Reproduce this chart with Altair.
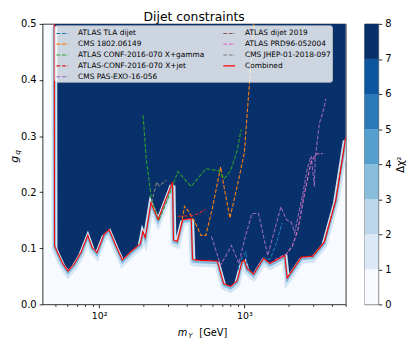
import altair as alt
import pandas as pd

# ---------------- data ----------------
comb_m = [49.0, 49.2, 51.5, 55.7, 60.9, 67.3, 75.1, 83.4, 89.2, 96.5,
          108.1, 117.0, 130.0, 144.3, 168.7, 192.2, 199.8, 207.8, 227.3, 254.7,
          319.8, 324.9, 344.7, 376.7, 430.5, 439.5, 454.7, 652.0, 719.5, 803.5,
          891.6, 964.0, 1000.0, 1042.0, 1158.0, 1355.0, 1503.0, 1900.0, 1973.0, 2469.0,
          2965.0, 3556.0, 4272.0, 5000.0]
comb_g = [0.500, 0.105, 0.093, 0.074, 0.059, 0.072, 0.093, 0.123, 0.102, 0.092,
          0.125, 0.133, 0.105, 0.079, 0.096, 0.108, 0.130, 0.119, 0.181, 0.151,
          0.218, 0.115, 0.112, 0.151, 0.153, 0.081, 0.079, 0.077, 0.037, 0.032,
          0.042, 0.076, 0.079, 0.064, 0.054, 0.082, 0.073, 0.087, 0.047, 0.084,
          0.086, 0.111, 0.186, 0.298]

tla_m = [900, 964, 1027, 1042, 1158, 1355, 1503, 1669, 1820]
tla_g = [0.060, 0.084, 0.093, 0.066, 0.055, 0.083, 0.080, 0.110, 0.145]

cms1802_m = [344.7, 359.7, 387, 420.5, 464, 502, 543, 603, 686.6, 727.5,
             795.7, 891.6, 1000, 1060, 1111, 1164]
cms1802_g = [0.112, 0.128, 0.175, 0.163, 0.143, 0.123, 0.123, 0.172, 0.245, 0.207,
             0.154, 0.210, 0.270, 0.360, 0.430, 0.500]

xgam_m = [200.5, 211, 229.4, 257.6, 298, 348.6, 429.5, 543, 669.9, 724.4, 803.5, 891.6, 950]
xgam_g = [0.337, 0.259, 0.186, 0.150, 0.189, 0.237, 0.210, 0.242, 0.238, 0.224, 0.238, 0.274, 0.312]

xjet_m = [348.6, 427, 476.5, 543]
xjet_g = [0.157, 0.158, 0.161, 0.170]

pas_m = [593.6, 686.6, 815.8, 916, 1011, 1128, 1253, 1449, 1786, 1950,
         2111, 2223, 2535, 2713, 2887, 3041, 3074, 3289, 3468, 3652]
pas_g = [0.121, 0.070, 0.105, 0.073, 0.119, 0.162, 0.162, 0.087, 0.174, 0.151,
         0.146, 0.128, 0.198, 0.242, 0.265, 0.210, 0.258, 0.323, 0.341, 0.367]

dij19_m = [1973, 2469, 2965, 3556, 4272, 5000]
dij19_g = [0.047, 0.084, 0.086, 0.111, 0.186, 0.298]

prd_m = [1503, 1722, 1950, 2143, 2344, 2600, 2887, 3123, 3468]
prd_g = [0.073, 0.083, 0.090, 0.104, 0.134, 0.198, 0.254, 0.268, 0.269]

jhep_m = [229.4, 248.9, 258.6, 290.1]
jhep_g = [0.181, 0.218, 0.211, 0.221]

# legend order (the legend fills column by column)
names = ["ATLAS TLA dijet", "CMS 1802.06149", "ATLAS CONF-2016-070 X+gamma",
         "ATLAS-CONF-2016-070 X+jet", "CMS PAS-EXO-16-056",
         "ATLAS dijet 2019", "ATLAS PRD96-052004", "CMS JHEP-01-2018-097", "Combined"]
colors = ["#1f77b4", "#ff7f0e", "#2ca02c", "#d62728", "#9467bd",
          "#8c564b", "#e377c2", "#7f7f7f", "#ff0000"]

xticks = [50, 60, 70, 80, 90, 100, 200, 300, 400, 500, 600, 700, 800, 900,
          1000, 2000, 3000, 4000, 5000]
yticks = [0.0, 0.1, 0.2, 0.3, 0.4, 0.5]

cb_lo = [0, 1, 2, 3, 4, 5, 6, 7]
cb_hi = [1, 2, 3, 4, 5, 6, 7, 8]
cb_col = ["#f7fbff", "#dbe9f6", "#bbd6eb", "#88bedc", "#549fcd", "#2a7ab9", "#0c56a0", "#08306b"]

# ---------------- tables ----------------
series = [
    ("ATLAS TLA dijet", tla_m, tla_g),
    ("CMS 1802.06149", cms1802_m, cms1802_g),
    ("ATLAS CONF-2016-070 X+gamma", xgam_m, xgam_g),
    ("ATLAS-CONF-2016-070 X+jet", xjet_m, xjet_g),
    ("CMS PAS-EXO-16-056", pas_m, pas_g),
    ("ATLAS dijet 2019", dij19_m, dij19_g),
    ("ATLAS PRD96-052004", prd_m, prd_g),
    ("CMS JHEP-01-2018-097", jhep_m, jhep_g),
]
rows = []
for name, ms, gs in series:
    for i, (m, g) in enumerate(zip(ms, gs)):
        rows.append({"series": name, "m": m, "g": g, "i": i})
lines_df = pd.DataFrame(rows)
comb_df = pd.DataFrame({"m": comb_m, "g": comb_g, "top": 0.5, "series": "Combined",
                        "i": list(range(len(comb_m)))})
cb_df = pd.DataFrame({"lo": cb_lo, "hi": cb_hi, "col": cb_col})

W, H = 307, 284
FONT = "DejaVu Sans"

xscale = alt.Scale(type="log", domain=[40.7, 5000], nice=False)
yscale = alt.Scale(domain=[0, 0.5], nice=False)
xenc = alt.X("m:Q", title=None, scale=xscale,
             axis=alt.Axis(values=xticks,
                           labelExpr="datum.value == 100 ? '10²' : datum.value == 1000 ? '10³' : ''",
                           tickSize={"condition": {"test": "datum.value == 100 || datum.value == 1000",
                                                   "value": 3.5}, "value": 2},
                           labelPadding=3, labelFontSize=9.5, labelFlush=False,
                           labelOverlap=False, labelBound=False))
yenc = alt.Y("g:Q", title=None, scale=yscale, stack=None,
             axis=alt.Axis(values=yticks, format=".1f", tickSize=3.5, labelPadding=3,
                           labelFontSize=10))

dash_range = [[4, 1.7]] * len(names)
width_range = [1.1] * len(names)
ci = names.index("Combined")
dash_range[ci] = [1, 0]
width_range[ci] = 2.0

leg = alt.Legend(orient="none", legendX=12, legendY=1.5, columns=2, title=None,
                 symbolType="stroke", symbolSize=144, labelFontSize=7.5, labelFont=FONT,
                 labelColor="black", labelOffset=9, labelLimit=0,
                 fillColor="rgba(255,255,255,0.8)", strokeColor="rgba(204,204,204,0.8)",
                 cornerRadius=2, padding=1, rowPadding=-2.75, columnPadding=15)

color = alt.Color("series:N", scale=alt.Scale(domain=names, range=colors), legend=leg)
dash = alt.StrokeDash("series:N", scale=alt.Scale(domain=names, range=dash_range), legend=leg)
swidth = alt.StrokeWidth("series:N", scale=alt.Scale(domain=names, range=width_range), legend=leg)

comb_base = alt.Chart(comb_df)
# excluded region (Delta chi^2 >= 7) lies above the combined limit
dark = comb_base.mark_area(color="#08306b", clip=True, opacity=1).encode(
    x=xenc, y=yenc, y2="top:Q")
# soft transition band just below the limit (the contour levels 1..6)
halo1 = comb_base.mark_line(color="#d3e4f3", strokeWidth=6, yOffset=3.5, clip=True).encode(
    x=xenc, y=yenc, order="i:Q")
halo2 = comb_base.mark_line(color="#7fb8da", strokeWidth=2.5, yOffset=1.8, clip=True).encode(
    x=xenc, y=yenc, order="i:Q")
dashed = alt.Chart(lines_df).mark_line(clip=True).encode(
    x=xenc, y=yenc, color=color, strokeDash=dash, strokeWidth=swidth,
    detail="series:N", order="i:Q")
comb_line = comb_base.mark_line(clip=True).encode(
    x=xenc, y=yenc, color=color, strokeDash=dash, strokeWidth=swidth, order="i:Q")


def txt(s, x, y, **kw):
    return alt.Chart(pd.DataFrame({"t": [s]})).mark_text(font=FONT, color="black", **kw).encode(
        x=alt.value(x), y=alt.value(y), text="t:N")


title = txt("Dijet constraints", W / 2, -2.8, fontSize=12.5, align="center", baseline="alphabetic")
ytitle_g = txt("g", -28, 137, fontSize=11, fontStyle="italic", angle=270,
               align="center", baseline="middle")
ytitle_q = txt("q", -24.5, 130, fontSize=7.5, fontStyle="italic", angle=270,
               align="center", baseline="middle")
xtitle_m = txt("m", 137, H + 32, fontSize=10, fontStyle="italic", align="left",
               baseline="alphabetic")
xtitle_y = txt("Y", 147.5, H + 34, fontSize=7, fontStyle="italic", align="left",
               baseline="alphabetic")
xtitle_u = txt("[GeV]", 158.7, H + 32, fontSize=10, align="left", baseline="alphabetic")

main = alt.layer(dark, halo1, halo2, dashed, comb_line,
                 title, ytitle_g, ytitle_q, xtitle_m, xtitle_y, xtitle_u).properties(
    width=W, height=H,
    view=alt.ViewBackground(fill="#f7fbff", stroke="black", strokeWidth=0.8))

cbar = alt.Chart(cb_df).mark_rect().encode(
    y=alt.Y("lo:Q", scale=alt.Scale(domain=[0, 8], nice=False),
            axis=alt.Axis(orient="right", values=list(range(9)), format="d", title="Δχ²",
                          titleAngle=270, titleBaseline="top", titleFontSize=10, titlePadding=5,
                          tickSize=3.5, labelPadding=3, labelFontSize=10)),
    y2="hi:Q",
    color=alt.Color("col:N", scale=None),
).properties(width=14, height=H,
             view=alt.ViewBackground(stroke="#333333", strokeWidth=0.8))

chart = alt.hconcat(main, cbar, spacing=19, bounds="flush").properties(padding=0).configure(
    font=FONT
).configure_axis(
    domain=False, grid=False, labelColor="black", tickColor="black", tickWidth=0.8,
    titleColor="black", titleFontWeight="normal", labelFont=FONT, titleFont=FONT
)

chart.save("out.html", embed_options={"renderer": "svg", "actions": False})
